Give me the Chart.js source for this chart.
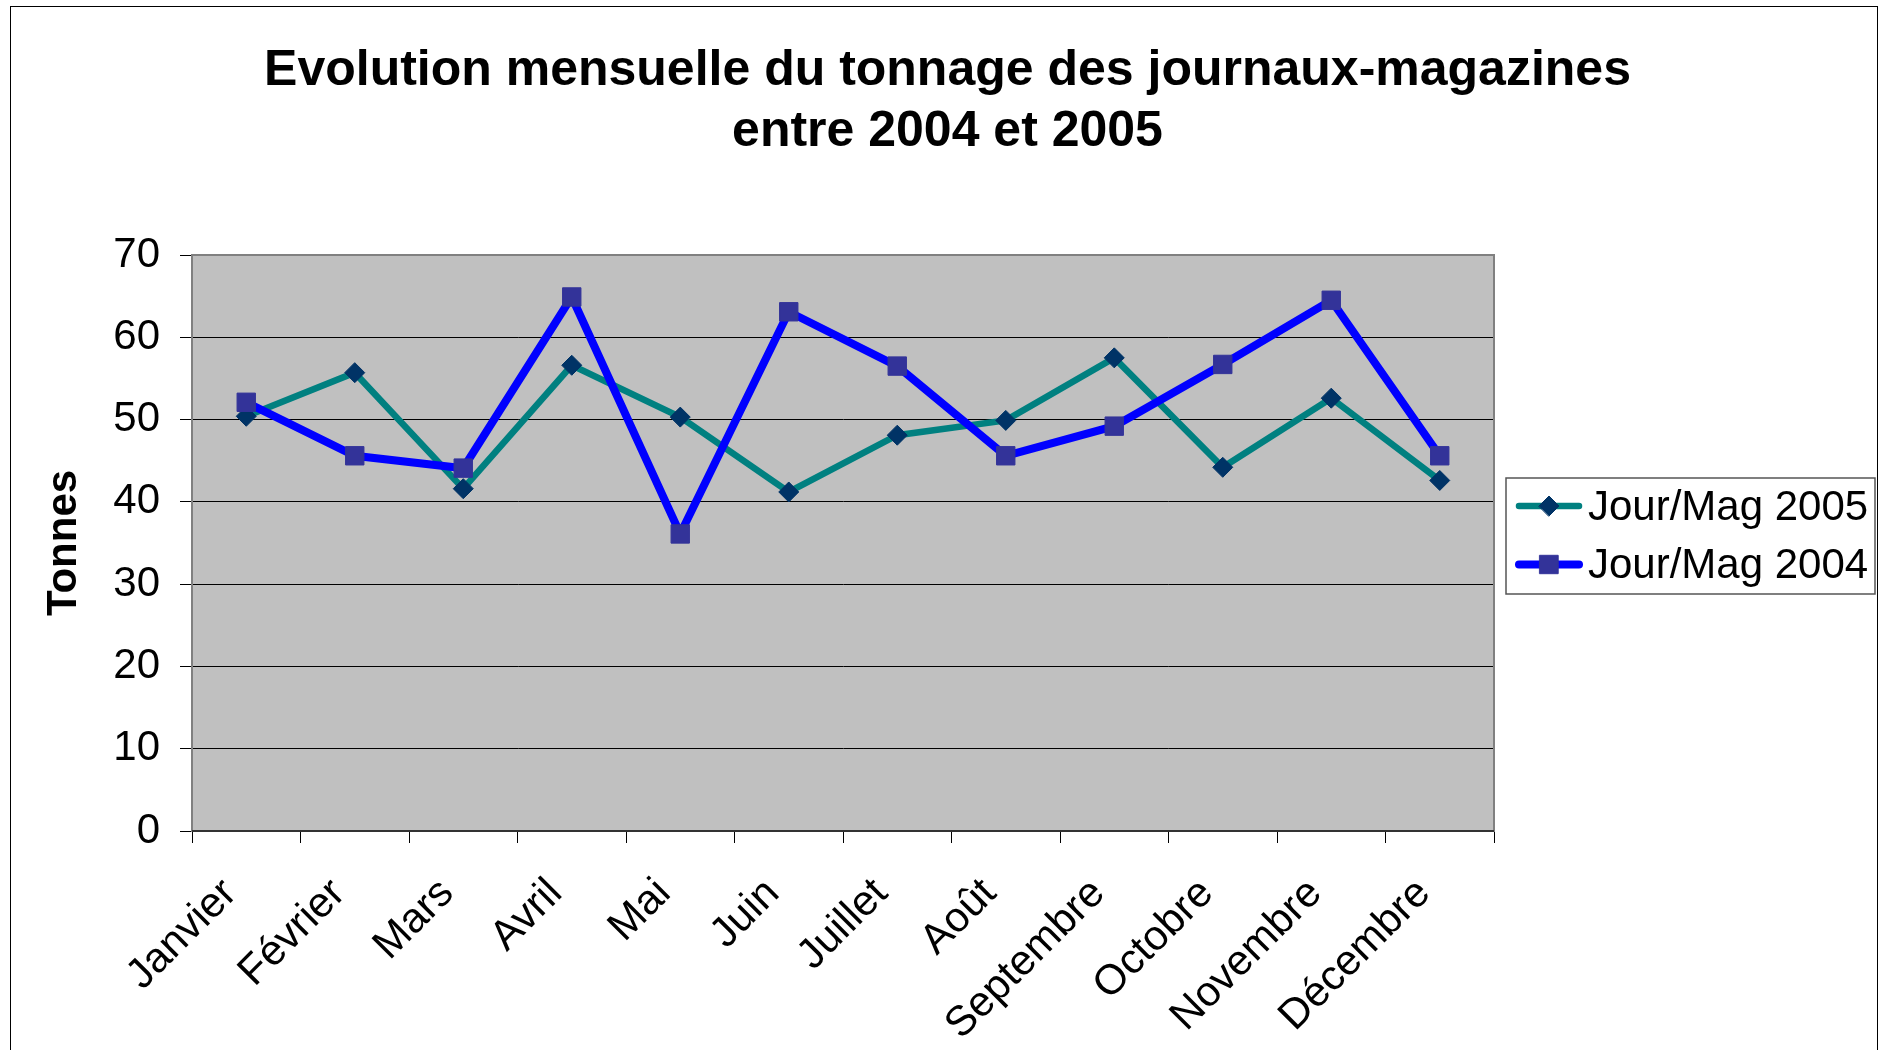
<!DOCTYPE html>
<html><head><meta charset="utf-8">
<script src="https://cdn.jsdelivr.net/npm/chart.js@4.4.1/dist/chart.umd.min.js"></script>
<style>
html,body{margin:0;padding:0;background:#fff;overflow:hidden;}
#wrap{position:relative;width:1885px;height:1050px;}
#frame{position:absolute;left:10px;top:6px;width:1868px;height:1100px;border:1.5px solid #000;box-sizing:border-box;pointer-events:none}
canvas{position:absolute;left:0;top:0}
</style></head><body>
<div id="wrap"><canvas id="c" width="1885" height="1050"></canvas><div id="frame"></div></div>
<script>
const months = ['Janvier','Février','Mars','Avril','Mai','Juin','Juillet','Août','Septembre','Octobre','Novembre','Décembre'];
const seriesNames = ['Jour/Mag 2005','Jour/Mag 2004'];
const tonnage2005 = [50.4, 55.7, 41.6, 56.6, 50.3, 41.2, 48.1, 49.9, 57.5, 44.2, 52.6, 42.6];
const tonnage2004 = [52.1, 45.6, 44.1, 64.9, 36.1, 63.1, 56.5, 45.6, 49.2, 56.7, 64.5, 45.6];
const yMin = 0, yMax = 70, yStep = 10;
const titleLines = ['Evolution mensuelle du tonnage des journaux-magazines','entre 2004 et 2005'];
const yTitle = 'Tonnes';

const FONT = "'Liberation Sans', Arial, sans-serif";

const plotBg = {
  id: 'plotBg',
  beforeDraw(chart) {
    const {ctx, chartArea: a} = chart;
    ctx.save();
    ctx.fillStyle = '#C0C0C0';
    ctx.fillRect(a.left, a.top, a.right - a.left, a.bottom - a.top);
    ctx.restore();
  },
  beforeDatasetsDraw(chart) {
    const {ctx, chartArea: a} = chart;
    ctx.save();
    ctx.strokeStyle = '#808080';
    ctx.lineWidth = 2;
    ctx.strokeRect(a.left, a.top, a.right - a.left, a.bottom - a.top);
    ctx.beginPath();
    ctx.strokeStyle = '#333333';
    ctx.moveTo(a.left, a.bottom); ctx.lineTo(a.right, a.bottom);
    ctx.stroke();
    ctx.restore();
  }
};

const boxLegend = {
  id: 'boxLegend',
  afterDraw(chart) {
    const {ctx, chartArea: a} = chart;
    const x0 = a.right + 12, w = 369, h = 116;
    const y0 = (a.top + a.bottom) / 2 - h / 2 - 7;
    ctx.save();
    ctx.fillStyle = '#fff';
    ctx.fillRect(x0, y0, w, h);
    ctx.strokeStyle = '#555';
    ctx.lineWidth = 1.5;
    ctx.strokeRect(x0, y0, w, h);
    chart.data.datasets.forEach((ds, i) => {
      const cy = y0 + 28 + i * 58.5;
      ctx.beginPath();
      ctx.strokeStyle = ds.borderColor;
      ctx.lineWidth = ds.borderWidth;
      ctx.lineCap = 'round';
      ctx.moveTo(x0 + 13, cy); ctx.lineTo(x0 + 73, cy);
      ctx.stroke();
      ctx.fillStyle = ds.pointBackgroundColor;
      ctx.strokeStyle = ds.pointBorderColor;
      ctx.lineWidth = 1;
      Chart.helpers.drawPoint(ctx, {pointStyle: ds.pointStyle, radius: ds.pointRadius, rotation: 0, borderWidth: 1}, x0 + 43, cy);
      ctx.fillStyle = '#000';
      ctx.font = '42px ' + FONT;
      ctx.textBaseline = 'middle';
      ctx.textAlign = 'left';
      ctx.fillText(ds.label, x0 + 82, cy + 2);
    });
    ctx.restore();
  }
};

new Chart(document.getElementById('c'), {
  type: 'line',
  data: {
    labels: months,
    datasets: [
      {
        label: seriesNames[0], data: tonnage2005, order: 2,
        borderColor: '#008080', borderWidth: 6.5,
        pointStyle: 'rectRot', pointRadius: 10, pointHoverRadius: 10,
        pointBackgroundColor: '#003366', pointBorderColor: '#003366', pointBorderWidth: 1,
        tension: 0, fill: false
      },
      {
        label: seriesNames[1], data: tonnage2004, order: 1,
        borderColor: '#0000FF', borderWidth: 8,
        pointStyle: 'rect', pointRadius: 13, pointHoverRadius: 13,
        pointBackgroundColor: '#333399', pointBorderColor: '#333399', pointBorderWidth: 1,
        tension: 0, fill: false
      }
    ]
  },
  options: {
    responsive: false,
    animation: false,
    devicePixelRatio: 1,
    layout: {padding: {left: 10, right: 0, top: 0, bottom: 0}},
    plugins: {
      legend: {display: false},
      tooltip: {enabled: false},
      title: {
        display: true, text: titleLines, color: '#000',
        font: {family: FONT, size: 50, weight: 'bold', lineHeight: 1.22},
        padding: {top: 41, bottom: 92}
      }
    },
    scales: {
      x: {
        offset: true,
        grid: {offset: true, drawOnChartArea: false, drawTicks: true, tickLength: 12, tickColor: '#000', tickWidth: 1},
        border: {display: true, color: '#333', width: 2},
        ticks: {color: '#000', font: {family: FONT, size: 42}, minRotation: 45, maxRotation: 45, autoSkip: false, padding: 26, labelOffset: -16},
        afterFit(scale) { scale.height = 219; }
      },
      y: {
        min: yMin, max: yMax,
        grid: {color: '#000', lineWidth: 1, drawTicks: true, tickLength: 12, tickColor: '#000'},
        border: {display: true, color: '#808080', width: 2},
        ticks: {stepSize: yStep, color: '#000', font: {family: FONT, size: 42}, padding: 20},
        title: {display: true, text: yTitle, color: '#000', font: {family: FONT, size: 42, weight: 'bold'}, padding: {top: 29, bottom: 0}},
        afterFit(scale) { scale.width = 182; }
      },
      legendSpace: {
        position: 'right', display: true, min: yMin, max: yMax,
        grid: {display: false, drawTicks: false}, border: {display: false},
        ticks: {display: false},
        afterFit(scale) { scale.width = 391; }
      }
    }
  },
  plugins: [plotBg, boxLegend]
});
</script>
</body></html>
